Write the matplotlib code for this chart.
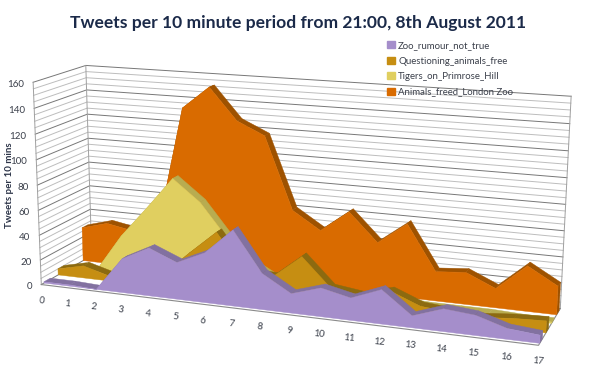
# coding=utf-8
import numpy as np
from matplotlib import pyplot as plt
from matplotlib.patches import Patch

plt.rcParams['font.family'] = ['Lato', 'DejaVu Sans']

periods = list(range(18))
y_ticks = list(range(0, 161, 20))

animals_freed = [28, 34, 30, 35, 134, 152, 127, 117, 60, 46, 63, 41, 58, 23, 25, 15, 35, 22]
tigers = [0, 0, 31, 56, 82, 65, 38, 18, 6, 4, 3, 3, 3, 2, 2, 2, 1, 1]
questioning = [5, 10, 4, 1, 10, 30, 49, 20, 19, 37, 15, 12, 18, 9, 7, 6, 8, 9]
zoo_rumour = [1, 1, 0, 27, 38, 29, 39, 59, 28, 15, 22, 17, 26, 9, 17, 15, 8, 6]

names = ['Zoo_rumour_not_true', 'Questioning_animals_free', 'Tigers_on_Primrose_Hill', 'Animals_freed_London Zoo']
front_cols = ['#a58ecb', '#c68e12', '#e0cf60', '#d96b00']
top_cols = ['#8271a0', '#8c6a10', '#b8ac50', '#9e5200']
depths = [(0.05, 0.17), (0.32, 0.44), (0.58, 0.70), (0.82, 0.94)]

# camera fit: plot corners (period, tweets, depth) -> pixels in the picture
corners = [(0, 0, 0), (0, 160, 0), (0, 0, 1), (0, 160, 1), (17, 0, 1), (17, 160, 1), (17, 0, 0)]
pixels = [(42, 285), (32, 83), (91, 255), (87, 65), (560, 310), (571, 96), (539, 344)]
A, b = [], []
for (x, v, d), (u, w) in zip(corners, pixels):
    A.append([x, v, d, 1, 0, 0, 0, 0, -u * x, -u * v, -u * d])
    A.append([0, 0, 0, 0, x, v, d, 1, -w * x, -w * v, -w * d])
    b += [u, w]
cam = np.linalg.lstsq(np.array(A, float), np.array(b, float), rcond=None)[0]
cam = np.append(cam, 1).reshape(3, 4)


def proj(x, v, d):
    pts = cam @ np.array([x, v, d, 1.0])
    return pts[0] / pts[2], pts[1] / pts[2]


fig = plt.figure(figsize=(5.89, 3.77), dpi=100)
ax = fig.add_axes([0, 0, 1, 1])
ax.set_xlim(0, 589)
ax.set_ylim(377, 0)
ax.axis('off')

# gridlines on both walls, heavier every 20
for v in range(0, 161, 5):
    major = v % 20 == 0
    col = '#777777' if major else '#bdbdbd'
    xs, ys = zip(proj(0, v, 0), proj(0, v, 1), proj(17, v, 1))
    ax.plot(xs, ys, color=col, lw=0.7, zorder=1)
for corner in [(0, 1), (17, 1), (0, 0)]:
    xs, ys = zip(proj(corner[0], 0, corner[1]), proj(corner[0], 160, corner[1]))
    ax.plot(xs, ys, color='#a0a0a0', lw=0.7, zorder=1)
xs, ys = zip(proj(0, 0, 0), proj(17, 0, 0), proj(17, 0, 1))
ax.plot(xs, ys, color='#8a8a8a', lw=0.8, zorder=1)

# areas from the back to the front
series = [zoo_rumour, questioning, tigers, animals_freed]
z = 2
for i in [3, 2, 1, 0]:
    vals = series[i]
    d0, d1 = depths[i]
    for k in range(len(vals) - 1):
        quad = [proj(k, vals[k], d0), proj(k, vals[k], d1), proj(k + 1, vals[k + 1], d1), proj(k + 1, vals[k + 1], d0)]
        ax.fill(*zip(*quad), color=top_cols[i], lw=0.3, zorder=z)
    end = [proj(17, 0, d0), proj(17, 0, d1), proj(17, vals[-1], d1), proj(17, vals[-1], d0)]
    ax.fill(*zip(*end), color=top_cols[i], lw=0.3, zorder=z)
    face = [proj(0, 0, d0)] + [proj(k, vals[k], d0) for k in periods] + [proj(17, 0, d0)]
    ax.fill(*zip(*face), color=front_cols[i], lw=0.3, zorder=z + 1)
    z += 2

for v in y_ticks:
    px, py = proj(0, v, 0)
    ax.text(px - 9, py + 2, str(v), ha='right', va='center', fontsize=7, color='#3a3f4a')
for p in periods:
    px, py = proj(p, 0, 0)
    ax.text(px, py + 16, str(p), ha='center', va='center', fontsize=7, rotation=-6, color='#3a3f4a')

ax.text(10, 185, 'Tweets per 10 mins', rotation=90, ha='center', va='center', fontsize=7, fontweight='bold', color='#2b3347', zorder=20)
ax.text(298, 23, 'Tweets per 10 minute period from 21:00, 8th August 2011', ha='center', va='center', fontsize=12.6, fontweight='bold', color='#1b2a49')

handles = [Patch(color=c) for c in front_cols]
leg = ax.legend(handles, names, loc='upper left', bbox_to_anchor=(387 / 589, 1 - 41 / 377), frameon=False, fontsize=6.9,
                handlelength=0.8, handleheight=0.8, handletextpad=0.35, labelspacing=0.68, borderpad=0, borderaxespad=0, labelcolor='#3a3f4a')
leg.set_zorder(30)

fig.savefig('out.png', dpi=100)
